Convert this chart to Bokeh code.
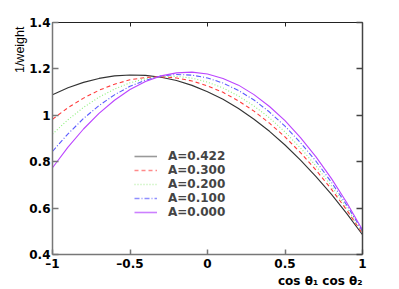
from bokeh.plotting import figure
from bokeh.models import (LinearAxis, FixedTicker, CustomJSTickFormatter, Legend,
                          LegendItem, Title, Range1d)
from bokeh.embed import file_html
from bokeh.resources import INLINE

# ---- data ----
x = [-1.0, -0.9, -0.8, -0.7, -0.6, -0.5, -0.4, -0.3, -0.2, -0.1, 0.0,
     0.1, 0.2, 0.3, 0.4, 0.5, 0.6, 0.7, 0.8, 0.9, 1.0]
y_a0422 = [1.089, 1.119, 1.142, 1.159, 1.170, 1.174, 1.172, 1.164, 1.150, 1.129, 1.102,
           1.069, 1.029, 0.983, 0.931, 0.872, 0.807, 0.736, 0.659, 0.575, 0.485]
y_a0300 = [0.983, 1.033, 1.074, 1.108, 1.134, 1.153, 1.163, 1.166, 1.161, 1.148, 1.127,
           1.099, 1.062, 1.018, 0.966, 0.907, 0.839, 0.764, 0.681, 0.590, 0.491]
y_a0200 = [0.919, 0.981, 1.034, 1.078, 1.113, 1.140, 1.158, 1.167, 1.168, 1.160, 1.143,
           1.118, 1.083, 1.040, 0.989, 0.928, 0.859, 0.782, 0.695, 0.600, 0.496]
y_a0100 = [0.844, 0.920, 0.986, 1.042, 1.088, 1.125, 1.151, 1.169, 1.176, 1.173, 1.161,
           1.139, 1.107, 1.066, 1.014, 0.953, 0.882, 0.802, 0.711, 0.611, 0.501]
y_a0000 = [0.774, 0.863, 0.941, 1.008, 1.065, 1.111, 1.146, 1.170, 1.183, 1.186, 1.178,
           1.159, 1.130, 1.089, 1.038, 0.977, 0.904, 0.821, 0.727, 0.622, 0.506]
series_labels = ["A=0.422", "A=0.300", "A=0.200", "A=0.100", "A=0.000"]
x_ticks = [-1.0, -0.5, 0.0, 0.5, 1.0]
y_ticks = [0.4, 0.6, 0.8, 1.0, 1.2, 1.4]
y_axis_label = "1/weight"
x_axis_label = "cos θ₁ cos θ₂"

series = [y_a0422, y_a0300, y_a0200, y_a0100, y_a0000]
colors = ["#333333", "#ff3b3b", "#8cf07a", "#5a5aff", "#bb44ff"]
legend_colors = ["#999999", "#ff8a8a", "#b8f0a8", "#8f8fff", "#cc80ff"]
dashes = ["solid", "4 3", "1 2", "5 2 1 2", "solid"]

p = figure(width=391, height=289, output_backend="svg", toolbar_location=None,
           x_range=Range1d(-1, 1), y_range=Range1d(0.4, 1.4),
           x_axis_location=None, y_axis_location=None,
           min_border_left=52, min_border_right=29, min_border_top=22, min_border_bottom=32)
p.xgrid.visible = False
p.ygrid.visible = False
p.outline_line_color = None
p.background_fill_color = "white"
p.border_fill_color = "white"

fmt = CustomJSTickFormatter(code="""
const s = (Math.round(tick * 10) / 10).toString();
return s.replace('-', '\\u2013');
""")

def style(ax, ticks, color, lw, tick_in, show_labels):
    ax.ticker = FixedTicker(ticks=ticks)
    ax.axis_line_color = color
    ax.axis_line_width = lw
    ax.major_tick_line_color = color
    ax.major_tick_line_width = lw
    ax.major_tick_in = tick_in
    ax.major_tick_out = 0
    ax.minor_tick_line_color = None
    if show_labels:
        ax.formatter = fmt
        ax.major_label_text_font = "DejaVu Sans"
        ax.major_label_text_font_style = "bold"
        ax.major_label_text_font_size = "12px"
        ax.major_label_text_color = "black"
        ax.major_label_standoff = 2
    else:
        ax.major_label_text_font_size = "0px"
        ax.major_label_text_alpha = 0

left = LinearAxis(); style(left, y_ticks, "#777777", 1.5, 6, True)
bottom = LinearAxis(); style(bottom, x_ticks, "#777777", 1.5, 5, True)
top = LinearAxis(); style(top, x_ticks, "#222222", 1, 4, False)
right = LinearAxis(); style(right, y_ticks, "#444444", 1.5, 6, False)
p.add_layout(left, "left")
p.add_layout(bottom, "below")
p.add_layout(top, "above")
p.add_layout(right, "right")

# titles after the axes so they sit outside them
ytitle = Title(text=y_axis_label, align="right", text_font="Liberation Sans",
               text_font_size="12.5px", text_font_style="normal", text_color="black",
               standoff=0, offset=4)
p.add_layout(ytitle, "left")
xtitle = Title(text=x_axis_label, align="right", vertical_align="top",
               text_font="DejaVu Sans", text_font_size="12px", text_font_style="bold",
               text_color="black", standoff=0, offset=0)
p.add_layout(xtitle, "below")

items = []
for ys, c, lc, d, lab in zip(series, colors, legend_colors, dashes, series_labels):
    p.line(x, ys, line_color=c, line_width=1.1, line_dash=d)
    # legend-only renderer: a single point (draws nothing in the plot) carrying the legend style
    lr = p.line(x[:1], ys[:1], line_color=lc, line_width=1.6, line_dash=d)
    items.append(LegendItem(label=lab, renderers=[lr]))

legend = Legend(items=items, location=(82, 35), orientation="vertical",
                border_line_color=None, background_fill_alpha=0,
                padding=0, margin=0, spacing=0,
                glyph_width=23, glyph_height=14, label_height=14,
                label_standoff=11,
                label_text_font="DejaVu Sans", label_text_font_style="bold",
                label_text_font_size="12px", label_text_baseline="middle")
p.add_layout(legend)

open("out.html", "w").write(file_html(p, INLINE))
